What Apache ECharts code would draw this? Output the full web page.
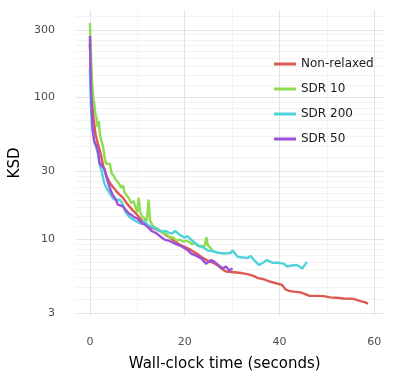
<!DOCTYPE html>
<html>
<head>
<meta charset="utf-8">
<script src="https://cdn.jsdelivr.net/npm/echarts@6/dist/echarts.min.js"></script>
<style>
  html, body { margin: 0; padding: 0; background: #fff; }
  #chart { width: 394px; height: 381px; }
</style>
</head>
<body>
<div id="chart"></div>
<script>
// series: [wall-clock seconds, KSD]
const nonRelaxed = [[0,240],[0.3,120],[0.7,75],[1.2,55],[1.7,47],[2.3,40],[2.8,33],[3.5,28],[4.2,25],[5,23],[6,21],[7,19.5],[8,17.5],[9,16],[10,14.8],[11,13.5],[12,12.7],[13,12],[14,11.7],[15,11.3],[16,10.7],[17,10.2],[18,9.6],[19,9.1],[20,8.8],[21,8.5],[22,8.1],[23,7.7],[24,7.3],[25,7.0],[26,6.8],[27,6.5],[28,6.1],[28.7,5.9],[30,5.85],[31,5.8],[32,5.75],[33.3,5.65],[34.5,5.5],[35.5,5.3],[36.7,5.2],[38,5.0],[39.5,4.85],[40.5,4.75],[41.3,4.4],[42,4.3],[43,4.25],[44.4,4.2],[45.3,4.1],[46.2,3.98],[47.5,3.97],[49.3,3.95],[50.7,3.87],[52,3.85],[53.5,3.8],[55.6,3.78],[56,3.7],[57.3,3.63],[58,3.58],[58.7,3.5]];
const sdr10 = [[0,336],[0.15,250],[0.4,140],[0.7,100],[0.9,92],[1.2,75],[1.4,72],[1.6,62],[1.9,68],[2.1,55],[2.4,50],[2.8,45],[3.1,38],[3.4,34],[3.8,33],[4.2,34],[4.6,29],[5.0,28],[5.4,26.5],[5.8,27],[6.2,24.5],[6.6,23],[7.0,24],[7.3,21.5],[7.7,20.5],[8.2,19.5],[8.7,18],[9.2,18.5],[9.7,16.5],[10.0,15.5],[10.3,19.5],[10.6,15.5],[11.0,14.5],[11.5,14],[12.0,13.5],[12.4,19],[12.7,13.5],[13.2,12.5],[13.8,12],[14.4,11.8],[15.0,11.2],[15.6,11],[16.2,10.8],[16.8,10.2],[17.5,10.3],[18.2,9.8],[19.0,9.9],[19.6,9.6],[20.3,9.7],[21.0,9.5],[21.6,9.2],[22.2,9.4],[22.8,9.0],[23.4,8.9],[24.2,8.9],[24.6,10.3],[24.9,9.0],[25.4,8.7],[25.9,8.3]];
const sdr200 = [[0,160],[0.2,90],[0.5,60],[0.9,50],[1.3,45],[1.7,40],[2.0,34],[2.5,30],[3.0,25],[3.5,23],[4.2,21],[4.8,19.5],[5.5,18.8],[6.3,19],[6.8,18],[7.5,15.5],[8.3,14.4],[9.0,13.8],[10.0,13.2],[10.9,12.8],[11.5,13.5],[12.2,12.5],[13.0,12.3],[14.0,11.8],[15.1,11.3],[16.0,11.4],[17.2,10.9],[18.0,11.4],[19.0,10.7],[20.0,10.2],[20.6,10.5],[21.5,9.8],[22.8,9.0],[24.0,8.7],[24.9,8.3],[26.0,8.2],[27,8.0],[28.5,7.9],[29.8,8.0],[30.1,8.3],[31.2,7.5],[32.3,7.4],[33.3,7.35],[33.9,7.6],[34.8,7.0],[35.7,6.55],[36.5,6.8],[37.4,7.1],[38.5,6.8],[39.5,6.8],[40.9,6.7],[41.6,6.4],[42.6,6.5],[43.7,6.55],[44.8,6.2],[45.8,6.9]];
const sdr50 = [[0,272],[0.2,130],[0.4,78],[0.6,61],[0.9,49],[1.3,46],[1.6,43.5],[1.9,38],[2.0,35],[2.3,33.5],[3.0,31.5],[3.7,26],[4.4,22],[4.8,20.5],[5.5,19],[5.9,17.5],[6.3,18],[7.0,17],[7.6,16],[8.2,15.2],[8.8,14.8],[9.3,14.3],[10.0,14.0],[10.6,13.4],[11.1,12.9],[11.8,12.5],[12.5,11.9],[13.0,11.4],[14.0,11.0],[15.1,10.3],[15.8,9.9],[16.8,9.7],[17.9,9.3],[19.0,9.0],[20.0,8.6],[20.7,8.3],[21.4,7.9],[22.5,7.6],[23.5,7.3],[24.5,6.7],[25.6,7.1],[26.3,6.9],[27.0,6.6],[28.0,6.2],[28.7,6.4],[29.4,6.0],[30.1,6.2]];

const seriesNames = ['Non-relaxed', 'SDR 10', 'SDR 200', 'SDR 50'];
const colors = ['#DE5A50', '#8FDC50', '#50D2DA', '#9B51DB'];

const xTicks = [0, 20, 40, 60];
const xMinorTicks = [10, 30, 50];
const yTicks = [3, 10, 30, 100, 300];
const yBreaks = [1, 3, 10, 30, 100, 300, 1000]; // minor lines split each gap in 9

let yMinorTicks = [];
for (let i = 0; i < yBreaks.length - 1; i++) {
  const step = (yBreaks[i + 1] - yBreaks[i]) / 9;
  for (let k = 1; k < 9; k++) yMinorTicks.push(yBreaks[i] + k * step);
}

const xMin = -2.95, xMax = 61.95;
const yMin = 2.86, yMax = 415;

const chart = echarts.init(document.getElementById('chart'));

const dataSets = [nonRelaxed, sdr10, sdr200, sdr50];

const option = {
  animation: false,
  textStyle: { fontFamily: 'DejaVu Sans' },
  grid: { left: 74, right: 10.5, top: 10, bottom: 65 },
  legend: {
    orient: 'vertical',
    left: 274,
    top: 57,
    padding: 0,
    icon: 'rect',
    itemWidth: 22,
    itemHeight: 3,
    itemGap: 11,
    textStyle: { fontSize: 12, color: '#1a1a1a', lineHeight: 14 },
    data: seriesNames
  },
  xAxis: [
    {
      type: 'value', min: xMin, max: xMax,
      name: 'Wall-clock time (seconds)',
      nameLocation: 'middle',
      nameGap: 41,
      nameTextStyle: { fontSize: 15, color: '#000', padding: [0, 10, 0, 0] },
      axisLine: { show: false },
      axisTick: { show: false, customValues: xTicks },
      axisLabel: { customValues: xTicks, fontSize: 11, color: '#4d4d4d', margin: 21 },
      splitLine: { show: true, lineStyle: { color: '#e3e3e3', width: 1 } }
    },
    {
      type: 'value', min: xMin, max: xMax, gridIndex: 0, position: 'bottom',
      axisLine: { show: false },
      axisTick: { show: false, customValues: xMinorTicks },
      axisLabel: { show: false, customValues: xMinorTicks },
      splitLine: { show: true, lineStyle: { color: '#f3f3f3', width: 1 } }
    }
  ],
  yAxis: [
    {
      type: 'log', logBase: 10, min: yMin, max: yMax,
      name: 'KSD',
      nameLocation: 'middle',
      nameGap: 44,
      nameTextStyle: { fontSize: 15, color: '#000' },
      axisLine: { show: false },
      axisTick: { show: false, customValues: yTicks },
      axisLabel: { customValues: yTicks, fontSize: 11, color: '#4d4d4d', margin: 21 },
      splitLine: { show: true, lineStyle: { color: '#e3e3e3', width: 1 } }
    },
    {
      type: 'log', logBase: 10, min: yMin, max: yMax, position: 'left',
      axisLine: { show: false },
      axisTick: { show: false, customValues: yMinorTicks },
      axisLabel: { show: false, customValues: yMinorTicks },
      splitLine: { show: true, lineStyle: { color: '#f3f3f3', width: 1 } }
    }
  ],
  series: seriesNames.map((name, i) => ({
    name: name,
    type: 'line',
    data: dataSets[i],
    showSymbol: false,
    symbol: 'none',
    color: colors[i],
    lineStyle: { width: 2.4, color: colors[i] },
    z: 3 + i
  }))
};

chart.setOption(option);
</script>
</body>
</html>
